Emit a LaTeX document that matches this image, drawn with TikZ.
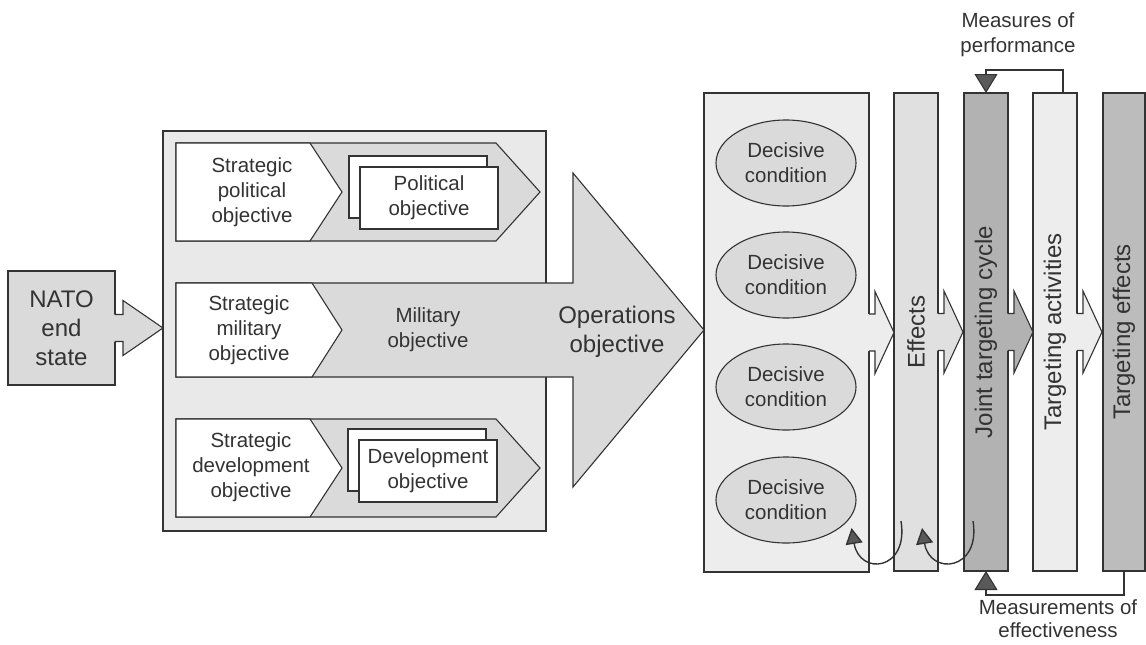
\documentclass[tikz,border=0pt]{standalone}
\usepackage{fontspec}
\setmainfont{Liberation Sans}
\usetikzlibrary{shapes.geometric, shadows, arrows.meta}
\definecolor{ink}{HTML}{333333}
\definecolor{panel}{HTML}{E9E9E9}
\definecolor{chevron}{HTML}{DADADA}
\definecolor{pale}{HTML}{EDEDED}
\definecolor{effcol}{HTML}{E0E0E0}
\definecolor{jtccol}{HTML}{B2B2B2}
\definecolor{tecol}{HTML}{BCBCBC}
\tikzset{
  line/.style={draw=ink, line width=1.1pt, line join=miter},
  lbl/.style={font=\fontsize{20.5}{25}\selectfont, text=ink, align=center},
  biglbl/.style={font=\fontsize{24}{29}\selectfont, text=ink, align=center},
  column/.style={line, rectangle, outer sep=0pt, inner sep=0pt, minimum height=478pt, minimum width=44pt},
  decisive/.style={ellipse, line, fill=chevron, minimum width=140pt, minimum height=86pt, inner sep=0pt, lbl},
  objbox/.style={rectangle, line, fill=white, minimum width=138pt, minimum height=62pt, inner sep=0pt, lbl,
    copy shadow={shadow xshift=-11pt, shadow yshift=11pt}},
  feedback/.style={line, -{Triangle[width=23pt, length=19pt, fill=black!65]}},
  turn/.style={line, line width=1.4pt, -{Triangle[width=17pt, length=16pt, fill=black!65]}}
}
% open block arrow sticking out of the east side of a node:
% node, fill, shaft length, shaft half height, head length, head half height
\newcommand{\sidearrow}[6]{%
  \fill[#2] ([shift={(-1,-#4)}]#1.east) -- ++(#3+1,0) -- ++(0,#4-#6) -- ++(#5,#6)
    -- ++(-#5,#6) -- ++(0,#4-#6) -- ++(-#3-1,0) -- cycle;
  \draw[line] ([shift={(0,-#4)}]#1.east) -- ++(#3,0) -- ++(0,#4-#6) -- ++(#5,#6)
    -- ++(-#5,#6) -- ++(0,#4-#6) -- ++(-#3,0);
}

\begin{document}
\begin{tikzpicture}[x=1pt, y=-1pt]
\useasboundingbox (0,0) rectangle (1146,645);

% left: end state and objectives
\node[line, fill=panel, minimum width=383pt, minimum height=400pt, outer sep=0pt, inner sep=0pt] (frame) at (354.5,331) {};
\node[line, fill=chevron, minimum width=107pt, minimum height=114pt, outer sep=0pt, biglbl] (nato) at (61.5,328) {NATO\\end\\state};
\sidearrow{nato}{chevron}{8}{13.5}{40}{27.5}

\foreach \c in {192,468} {
  \draw[line, fill=chevron] (176,\c-49) -- (496,\c-49) -- (540,\c) -- (496,\c+49) -- (176,\c+49) -- cycle;
  \draw[line, fill=white] (176,\c-49) -- (310,\c-49) -- (342,\c) -- (310,\c+49) -- (176,\c+49) -- cycle;
}
\draw[line, fill=chevron] (176,283) -- (573,283) -- (573,173) -- (704,330) -- (573,487) -- (573,377) -- (176,377) -- cycle;
\draw[line, fill=white] (176,283) -- (312,283) -- (342,330) -- (312,377) -- (176,377) -- cycle;

\node[lbl] (stratpol) at (252,192) {Strategic\\political\\objective};
\node[lbl] (stratmil) at (249,330) {Strategic\\military\\objective};
\node[lbl] (stratdev) at (251,467) {Strategic\\development\\objective};
\node[objbox] (polobj) at (429,198) {Political\\objective};
\node[objbox] (devobj) at (428,471) {Development\\objective};
\node[lbl] (milobj) at (428,330) {Military\\objective};
\node[biglbl] (opsobj) at (617,332) {Operations\\objective};

% right: conditions, effects and targeting
\node[column, fill=pale, minimum width=165pt, minimum height=479pt] (dcbox) at (786.5,332.5) {};
\foreach \y [count=\i] in {163,275,387,500}
  \node[decisive] (dc\i) at (786,\y) {Decisive\\condition};
\node[column, fill=effcol] (eff) at (916,332) {};
\node[column, fill=jtccol] (jtc) at (986,332) {};
\node[column, fill=pale] (ta) at (1055,332) {};
\node[column, fill=tecol, minimum width=42pt] (te) at (1124,332) {};

\sidearrow{dcbox}{pale}{6}{18.5}{19}{41}
\sidearrow{eff}{effcol}{6}{18.5}{19}{41}
\sidearrow{jtc}{jtccol}{6}{18.5}{19}{41}
\sidearrow{ta}{pale}{6}{18.5}{19}{41}

\node[biglbl, rotate=90] at (eff) {Effects};
\node[biglbl, rotate=90] at (jtc) {Joint targeting cycle};
\node[biglbl, rotate=90] at (ta) {Targeting activities};
\node[biglbl, rotate=90] at (te) {Targeting effects};

% feedback loops
\draw[feedback] ([xshift=8pt]ta.north) -- ++(0,-23) -| (jtc.north);
\node[lbl] (mop) at (1018,35) {Measures of\\performance};
\draw[feedback] (te.south) -- ++(0,24) -| (jtc.south);
\node[lbl, font=\fontsize{20.5}{23}\selectfont] (moe) at (1058,619) {Measurements of\\effectiveness};

\draw[turn] ([shift={(-15,-50)}]eff.south) .. controls +(8,50) and +(8,48) .. ([shift={(-5,28)}]dc4.east);
\draw[turn] ([shift={(-13,-50)}]jtc.south) .. controls +(8,50) and +(8,48) .. ([shift={(28,-43)}]eff.south west);
\end{tikzpicture}
\end{document}
